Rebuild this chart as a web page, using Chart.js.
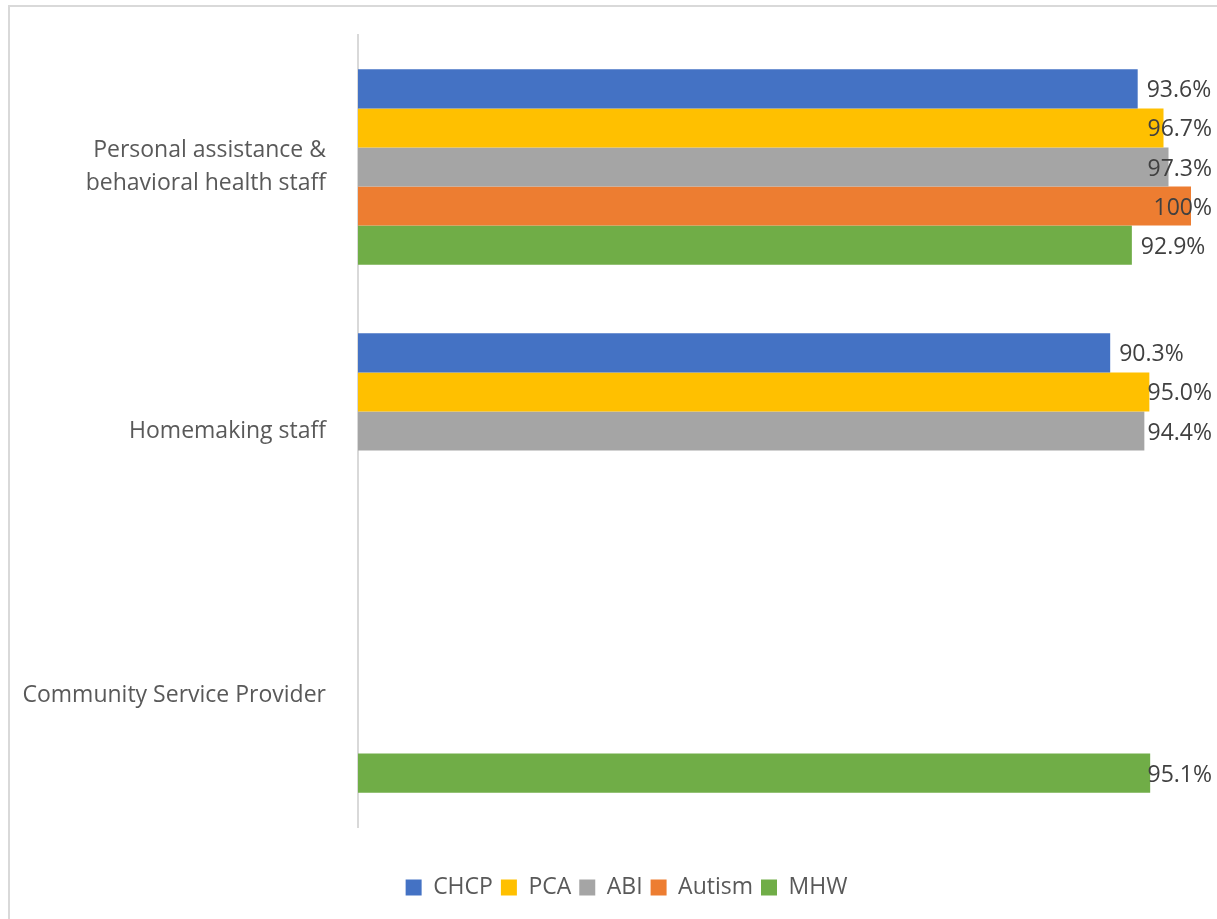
<!DOCTYPE html>
<html>
<head>
<meta charset="utf-8">
<script src="https://cdn.jsdelivr.net/npm/chart.js@4/dist/chart.umd.min.js"></script>
<style>
  html, body { margin: 0; padding: 0; background: #fff; }
  .frame {
    position: absolute; left: 8px; top: 5px; width: 1240px; height: 940px;
    border: 2px solid #d9d9d9; box-sizing: border-box;
  }
  .wrap { position: absolute; left: 0; top: 0; width: 1217px; height: 919px; }
</style>
</head>
<body>
<div class="frame"></div>
<div class="wrap"><canvas id="staffChart"></canvas></div>
<script>
// Staff categories and values per program (null = no bar)
const categories = [
    ['Personal assistance &', 'behavioral health staff'],
    'Homemaking staff',
    'Community Service Provider'
];
const seriesNames = ['CHCP', 'PCA', 'ABI', 'Autism', 'MHW'];
const seriesColors = ['#4472C4', '#FFC000', '#A5A5A5', '#ED7D31', '#70AD47'];
const chcpValues = [93.6, 90.3, null];
const pcaValues = [96.7, 95.0, null];
const abiValues = [97.3, 94.4, null];
const autismValues = [100, null, null];
const mhwValues = [92.9, null, 95.1];

const allValues = [chcpValues, pcaValues, abiValues, autismValues, mhwValues];
const fontFamily = '"Open Sans", "Liberation Sans", sans-serif';

const datasets = seriesNames.map((name, i) => ({
    label: name,
    data: allValues[i],
    backgroundColor: seriesColors[i],
    borderWidth: 0
}));

function formatPct(v) {
    return v === 100 ? '100%' : v.toFixed(1) + '%';
}

// value labels at the end of each bar, kept inside the canvas
const barLabels = {
    id: 'barLabels',
    afterDatasetsDraw(chart) {
        const ctx = chart.ctx;
        ctx.save();
        ctx.font = '23px ' + fontFamily;
        ctx.fillStyle = '#404040';
        ctx.textBaseline = 'middle';
        ctx.textAlign = 'left';
        chart.data.datasets.forEach((ds, di) => {
            const meta = chart.getDatasetMeta(di);
            meta.data.forEach((bar, j) => {
                const v = ds.data[j];
                if (v === null || v === undefined) return;
                const text = formatPct(v);
                const w = ctx.measureText(text).width;
                let x = bar.x + 9;
                if (x + w > chart.width - 5) x = chart.width - 5 - w;
                ctx.fillText(text, x, bar.y + 2);
            });
        });
        ctx.restore();
    }
};

// center the legend under the whole canvas rather than the padded box
const legendShift = {
    id: 'legendShift',
    afterLayout(chart) {
        const lg = chart.legend;
        const dx = chart.width / 2 + 18 - (lg.left + lg.right) / 2;
        lg.left += dx;
        lg.right += dx;
    }
};

const ctx = document.getElementById('staffChart').getContext('2d');
new Chart(ctx, {
    type: 'bar',
    data: { labels: categories, datasets: datasets },
    plugins: [barLabels, legendShift],
    options: {
        indexAxis: 'y',
        responsive: true,
        maintainAspectRatio: false,
        animation: false,
        categoryPercentage: 0.74,
        barPercentage: 1.0,
        layout: { padding: { top: 35, right: 26, bottom: 10, left: 10 } },
        scales: {
            x: {
                min: 0,
                max: 100,
                display: true,
                grid: { display: false },
                border: { display: false },
                ticks: { display: false },
                afterFit(scale) { scale.height = 41; }
            },
            y: {
                grid: { display: false },
                border: { display: true, color: '#d9d9d9', width: 2 },
                ticks: {
                    color: '#595959',
                    padding: 24,
                    font: { family: fontFamily, size: 23, lineHeight: 1.42 }
                },
                afterFit(scale) {
                    scale.width = 348;
                    scale.paddingTop = 0;
                    scale.paddingBottom = 0;
                }
            }
        },
        plugins: {
            tooltip: { enabled: false },
            legend: {
                position: 'bottom',
                labels: {
                    boxWidth: 16,
                    boxHeight: 16,
                    padding: 8,
                    color: '#595959',
                    font: { family: fontFamily, size: 23 }
                }
            }
        }
    }
});
</script>
</body>
</html>
